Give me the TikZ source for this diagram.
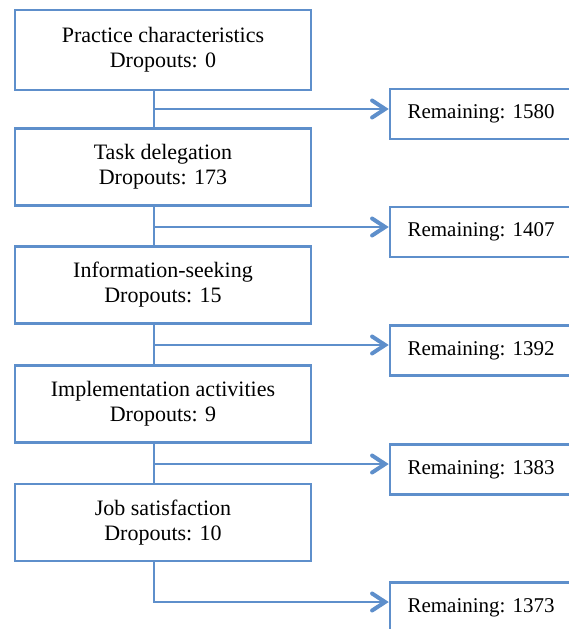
\documentclass[tikz,border=0pt]{standalone}
\usepackage{fontspec}
\setmainfont{Liberation Serif}
\usetikzlibrary{arrows.meta}
\definecolor{boxblue}{RGB}{94,143,203}

\begin{document}
\begin{tikzpicture}[x=1pt,y=-1pt,
    stage/.style={draw=boxblue,line width=2.5pt,minimum width=296pt,minimum height=77pt,align=center,font=\fontsize{22}{25}\selectfont},
    remain/.style={draw=boxblue,line width=2.5pt,minimum width=182pt,minimum height=50pt,font=\fontsize{21}{25}\selectfont},
    flow/.style={draw=boxblue,line width=2.5pt},
    toright/.style={flow,-{Straight Barb[length=13pt,width=17pt,line width=4pt,line cap=round]}}]
            \clip (0,0) rectangle (569,629);
            \node[stage,minimum height=80pt] (pc) at (163,50) {Practice characteristics\\Dropouts: 0};
            \node[stage] (td) at (163,167) {Task delegation\\Dropouts: 173};
            \node[stage] (is) at (163,285) {Information-seeking\\Dropouts: 15};
            \node[stage] (ia) at (163,404) {Implementation activities\\Dropouts: 9};
            \node[stage] (js) at (163,522.5) {Job satisfaction\\Dropouts: 10};
            \node[remain] (r1) at (481,114) {Remaining: 1580};
            \node[remain] (r2) at (481,232) {Remaining: 1407};
            \node[remain] (r3) at (481,350.5) {Remaining: 1392};
            \node[remain] (r4) at (481,469.5) {Remaining: 1383};
            \node[remain] (r5) at (481,607.5) {Remaining: 1373};
            \coordinate (b1) at (154,109);
            \coordinate (b2) at (154,227);
            \coordinate (b3) at (154,345);
            \coordinate (b4) at (154,464);
            \coordinate (b5) at (154,602);
            \draw[flow] (pc.south -| b1) -- (td.north -| b1);
            \draw[flow] (td.south -| b2) -- (is.north -| b2);
            \draw[flow] (is.south -| b3) -- (ia.north -| b3);
            \draw[flow] (ia.south -| b4) -- (js.north -| b4);
            \draw[toright] (b1) -- (r1.west |- b1);
            \draw[toright] (b2) -- (r2.west |- b2);
            \draw[toright] (b3) -- (r3.west |- b3);
            \draw[toright] (b4) -- (r4.west |- b4);
            \draw[toright] (js.south -| b5) |- (r5.west |- b5);
        \end{tikzpicture}
\end{document}
